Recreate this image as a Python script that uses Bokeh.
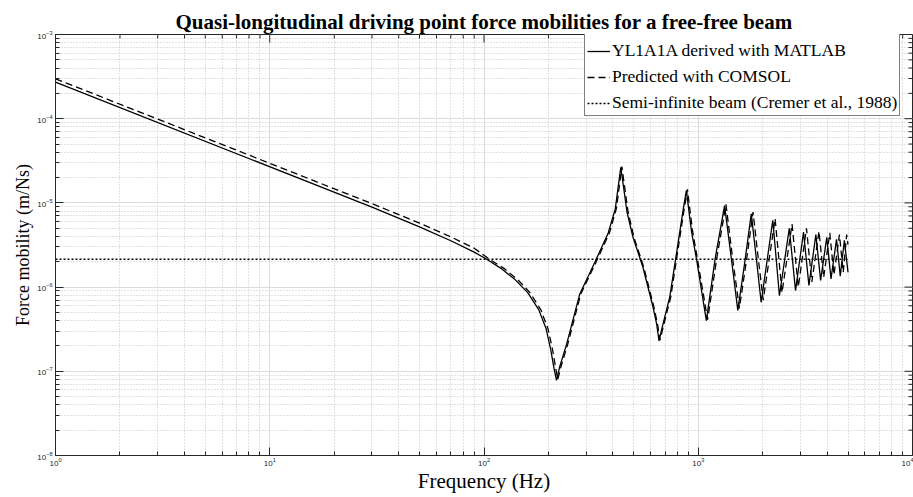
import math
from bokeh.plotting import figure
from bokeh.models import FixedTicker, Legend, LegendItem, Range1d, Title
from bokeh.embed import file_html
from bokeh.resources import INLINE

title_text = "Quasi-longitudinal driving point force mobilities for a free-free beam"
x_label = "Frequency (Hz)"
y_label = "Force mobility (m/Ns)"
series_names = ["YL1A1A derived with MATLAB", "Predicted with COMSOL",
                "Semi-infinite beam (Cremer et al., 1988)"]

x_ticks = [1, 10, 100, 1000, 10000]
y_ticks = [1e-8, 1e-7, 1e-6, 1e-5, 1e-4, 1e-3]

# YL1A1A derived with MATLAB
matlab_freq = [1, 30, 50, 70, 90, 103, 120, 140, 160, 180, 195, 205, 212, 218,
               226, 243, 280, 330, 380, 410, 435,
               465, 496, 552, 615, 640, 656, 680, 736, 791, 849, 880,
               930, 980, 1091, 1200, 1327, 1430, 1530, 1650, 1768, 1870, 1966,
               2228, 2393, 2660, 2845, 3100, 3285, 3540,
               3725, 3980, 4165, 4420, 4600, 4810, 5000]
matlab_mob = [2.72e-4, 8.9e-6, 5.2e-6, 3.55e-6, 2.6e-6, 2.14e-6, 1.67e-6, 1.22e-6, 8.6e-7, 5.4e-7,
              3.2e-7, 1.8e-7, 1.1e-7, 7.8e-8,
              1.15e-7, 2.1e-7, 8.3e-7, 2.0e-6, 4.4e-6, 8.5e-6, 2.65e-5,
              7.8e-6, 3.9e-6, 1.72e-6, 5.8e-7, 3.6e-7, 2.3e-7, 3.4e-7, 7.6e-7, 2.48e-6, 8.1e-6,
              1.4e-5,
              4.6e-6, 2.2e-6, 4.0e-7, 2.2e-6, 9.3e-6, 2.1e-6, 5.3e-7, 2.0e-6, 7.4e-6, 2.1e-6, 6.6e-7,
              6.2e-6, 7.9e-7, 5.0e-6, 9.1e-7, 4.5e-6, 1.05e-6, 4.2e-6,
              1.2e-6, 3.9e-6, 1.25e-6, 3.7e-6, 1.35e-6, 3.6e-6, 1.5e-6]

# Predicted with COMSOL
comsol_freq = [1, 30, 50, 70, 90, 106, 124, 144, 164, 184, 199, 209, 216, 221,
               229, 246, 283, 334, 385, 415, 440,
               470, 501, 557, 621, 646, 663, 687, 744, 799, 858, 890,
               940, 990, 1106, 1220, 1347, 1450, 1556, 1680, 1802, 1905, 2010,
               2284, 2460, 2740, 2930, 3200, 3390, 3660,
               3850, 4110, 4300, 4560, 4750, 4930, 5000]
comsol_mob = [2.98e-4, 9.8e-6, 5.75e-6, 3.95e-6, 2.9e-6, 2.14e-6, 1.67e-6, 1.22e-6, 8.6e-7, 5.4e-7,
              3.2e-7, 1.8e-7, 1.1e-7, 8.0e-8,
              1.15e-7, 2.1e-7, 8.3e-7, 2.0e-6, 4.4e-6, 8.6e-6, 2.7e-5,
              7.9e-6, 3.9e-6, 1.72e-6, 5.8e-7, 3.6e-7, 2.35e-7, 3.4e-7, 7.6e-7, 2.5e-6, 8.2e-6,
              1.45e-5,
              4.7e-6, 2.2e-6, 4.1e-7, 2.2e-6, 9.6e-6, 2.1e-6, 5.6e-7, 2.1e-6, 7.8e-6, 2.2e-6, 7.0e-7,
              6.5e-6, 8.6e-7, 5.6e-6, 1.0e-6, 5.0e-6, 1.15e-6, 4.6e-6,
              1.3e-6, 4.4e-6, 1.4e-6, 4.2e-6, 1.5e-6, 4.2e-6, 3.2e-6]

# Semi-infinite beam
semi_freq = [1, 5000]
semi_mob = [2.14e-6, 2.14e-6]

serif = "Liberation Serif"
sans = "Liberation Sans"
ink = "#262626"

p = figure(width=913, height=497, x_axis_type="log", y_axis_type="log",
           x_range=Range1d(x_ticks[0], x_ticks[-1]), y_range=Range1d(y_ticks[0], y_ticks[-1]),
           output_backend="svg", toolbar_location=None,
           min_border_left=55, min_border_right=1, min_border_top=34, min_border_bottom=42,
           background_fill_color="white", border_fill_color="white")

p.title.text = title_text
p.title.text_font = serif
p.title.text_font_size = "21px"
p.title.text_font_style = "bold"
p.title.align = "center"
p.title.text_color = "black"
p.title.standoff = 2

x_minor = [m * t for t in x_ticks[:-1] for m in range(2, 10)]
y_minor = [m * t for t in y_ticks[:-1] for m in range(2, 10)]
xt = FixedTicker(ticks=x_ticks, minor_ticks=x_minor)
yt = FixedTicker(ticks=y_ticks, minor_ticks=y_minor)

MAJ, MIN = 8, 4


def style_axis(ax, ticker):
    ax.ticker = ticker
    ax.axis_line_color = ink
    ax.major_tick_line_color = ink
    ax.minor_tick_line_color = ink
    ax.major_tick_in = MAJ
    ax.major_tick_out = 0
    ax.minor_tick_in = MIN
    ax.minor_tick_out = 0
    ax.major_label_text_font = sans
    ax.major_label_text_font_size = "8px"
    ax.major_label_text_color = ink
    ax.axis_label_text_font = serif
    ax.axis_label_text_font_style = "normal"
    ax.axis_label_text_color = "black"


style_axis(p.xaxis[0], xt)
style_axis(p.yaxis[0], yt)
p.xaxis[0].axis_label = x_label
p.xaxis[0].axis_label_text_font_size = "21px"
p.xaxis[0].major_label_standoff = 2
p.xaxis[0].axis_label_standoff = 0
p.yaxis[0].major_label_standoff = 3

# vertical y-axis title on the left side, nudged slightly lower
p.add_layout(Title(text=y_label, align="center", text_font=serif, text_font_size="18px",
                   text_font_style="normal", text_color="black", standoff=3, offset=-18),
             "left")

for g in (p.xgrid[0], p.ygrid[0]):
    g.grid_line_color = "#dcdcdc"
    g.grid_line_width = 1
    g.minor_grid_line_color = "#c4c4c4"
    g.minor_grid_line_dash = "1 2"
    g.minor_grid_line_width = 1

p.outline_line_color = ink

# mirrored inward ticks on the top and right edges of the box
x_end, y_end = x_ticks[-1], y_ticks[-1]
p.ray(x=[x_end] * len(y_ticks), y=y_ticks, length=MAJ, length_units="screen",
      angle=math.pi, line_color=ink, line_width=1)
p.ray(x=[x_end] * len(y_minor), y=y_minor, length=MIN, length_units="screen",
      angle=math.pi, line_color=ink, line_width=1)
p.ray(x=x_ticks, y=[y_end] * len(x_ticks), length=MAJ, length_units="screen",
      angle=-math.pi / 2, line_color=ink, line_width=1)
p.ray(x=x_minor, y=[y_end] * len(x_minor), length=MIN, length_units="screen",
      angle=-math.pi / 2, line_color=ink, line_width=1)

r1 = p.line(matlab_freq, matlab_mob, line_color="black", line_width=1.3)
r2 = p.line(comsol_freq, comsol_mob, line_color="black", line_width=1.3, line_dash="7 4")
r3 = p.line(semi_freq, semi_mob, line_color="black", line_width=1.6, line_dash="2 2")

legend = Legend(items=[LegendItem(label=series_names[0], renderers=[r1]),
                       LegendItem(label=series_names[1], renderers=[r2]),
                       LegendItem(label=series_names[2], renderers=[r3])],
                location=(529, 339))
legend.title = " "
legend.title_text_font_size = "7px"
legend.title_standoff = 1
legend.border_line_color = "black"
legend.border_line_width = 1
legend.background_fill_color = "white"
legend.background_fill_alpha = 1
legend.label_text_font = serif
legend.label_text_font_size = "17.5px"
legend.label_text_color = "black"
legend.glyph_width = 23
legend.label_standoff = 2
legend.padding = 2
legend.spacing = 5
legend.margin = 0
p.add_layout(legend)

open("out.html", "w").write(file_html(p, INLINE))
